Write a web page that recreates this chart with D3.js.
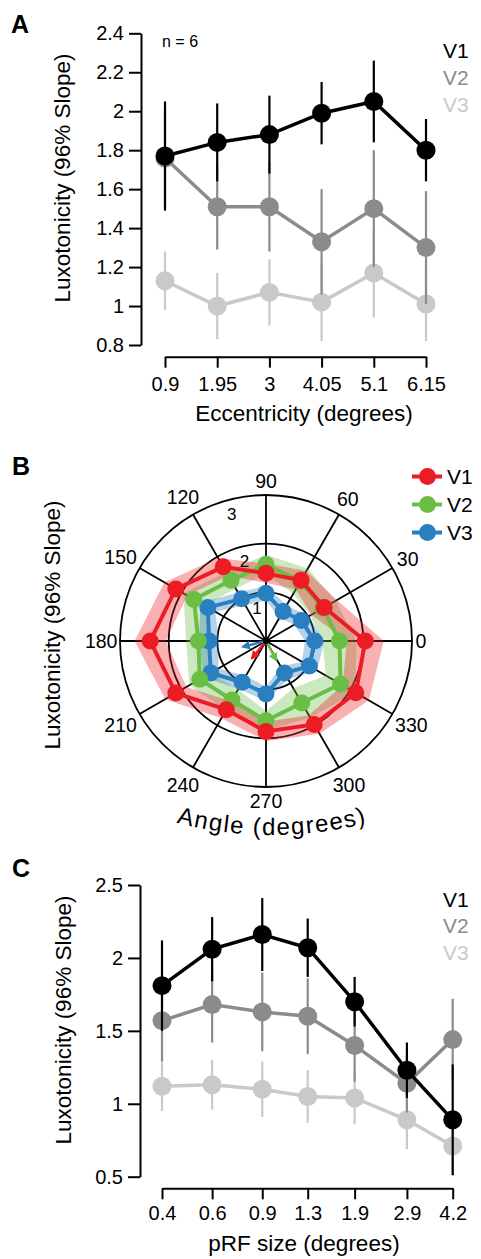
<!DOCTYPE html>
<html>
<head>
<meta charset="utf-8">
<script src="https://cdn.jsdelivr.net/npm/d3@7"></script>
<style>
  body { margin: 0; background: #fff; }
  svg { display: block; }
</style>
</head>
<body>
<svg width="481" height="1259"></svg>
<script>
// ---- panel A: eccentricity ----
var eccTicks = [0.9, 1.95, 3, 4.05, 5.1, 6.15];
var eccYTicks = [0.8, 1, 1.2, 1.4, 1.6, 1.8, 2, 2.2, 2.4];
var eccV1 = [1.77, 1.84, 1.88, 1.99, 2.05, 1.80];
var eccV1Err = [0.28, 0.20, 0.20, 0.16, 0.21, 0.16];
var eccV2 = [1.76, 1.51, 1.51, 1.33, 1.50, 1.30];
var eccV2Err = [0.25, 0.22, 0.23, 0.27, 0.30, 0.29];
var eccV3 = [1.13, 1.00, 1.07, 1.02, 1.17, 1.01];
var eccV3Err = [0.15, 0.17, 0.17, 0.20, 0.23, 0.19];

// ---- panel B: polar angle ----
var angles = [0, 30, 60, 90, 120, 150, 180, 210, 240, 270, 300, 330];
var polRings = [1, 2, 3];
var polV1 = [2.04, 1.38, 1.44, 1.39, 1.76, 2.14, 2.38, 2.14, 1.63, 1.86, 1.98, 2.13];
var polV1Err = [0.38, 0.30, 0.22, 0.20, 0.21, 0.27, 0.32, 0.25, 0.20, 0.20, 0.22, 0.31];
var polV2 = [1.51, 1.35, 1.42, 1.57, 1.44, 1.71, 1.39, 1.57, 1.40, 1.64, 1.47, 1.77];
var polV2Err = [0.35, 0.30, 0.30, 0.20, 0.20, 0.25, 0.25, 0.25, 0.25, 0.20, 0.35, 0.35];
var polV3 = [1.00, 0.84, 0.70, 0.98, 1.00, 1.38, 1.17, 1.31, 0.98, 1.09, 0.76, 1.03];
var polV3Err = [0.20, 0.17, 0.15, 0.15, 0.15, 0.18, 0.20, 0.18, 0.15, 0.15, 0.15, 0.18];
var vecAngle = [231, 298, 194];   // V1, V2, V3 mean vectors
var vecLength = [0.46, 0.45, 0.49];

// ---- panel C: pRF size ----
var prfTicks = [0.4, 0.6, 0.9, 1.3, 1.9, 2.9, 4.2];
var prfYTicks = [0.5, 1, 1.5, 2, 2.5];
var prfV1 = [1.81, 2.06, 2.16, 2.07, 1.70, 1.23, 0.89];
var prfV1Err = [0.31, 0.22, 0.25, 0.20, 0.17, 0.19, 0.38];
var prfV2 = [1.57, 1.68, 1.63, 1.60, 1.40, 1.14, 1.44];
var prfV2Err = [0.28, 0.26, 0.27, 0.26, 0.25, 0.20, 0.28];
var prfV3 = [1.12, 1.13, 1.10, 1.05, 1.04, 0.89, 0.71];
var prfV3Err = [0.17, 0.17, 0.19, 0.18, 0.18, 0.20, 0.20];

var areaNames = ["V1", "V2", "V3"];
var grayColors = ["#000000", "#8b8b8d", "#c8c9ca"];
var polColors = ["#ec1c24", "#6abd45", "#2a7fc1"];

var font = "'Liberation Sans', Arial, Helvetica, sans-serif";
var svg = d3.select("svg").attr("font-family", font);

var styleAxis = function(g, size){
    g.selectAll("path, line").attr("stroke", "#000").attr("stroke-width", 2);
    g.selectAll("text").attr("font-size", size).attr("fill", "#000").attr("font-family", font);
};

var yTitle = function(x, y, label){
    svg.append("text")
        .attr("transform", "translate(" + x + "," + y + ") rotate(-90)")
        .attr("text-anchor", "middle")
        .attr("font-size", 22.5)
        .text(label);
};

var panelLetter = function(x, y, label){
    svg.append("text").attr("x", x).attr("y", y)
        .attr("font-size", 25).attr("font-weight", "bold")
        .text(label);
};

// line chart with error bars (panels A and C)
var drawLinePanel = function(cfg){
    var g = svg.append("g");

    var ax = g.append("g")
        .attr("transform", "translate(" + cfg.yAxisX + ",0)")
        .call(d3.axisLeft(cfg.y).tickValues(cfg.yTicks).tickSize(12).tickSizeOuter(0)
            .tickPadding(5).tickFormat(d3.format("~g")));
    styleAxis(ax, 20);

    var bx = g.append("g")
        .attr("transform", "translate(0," + cfg.xAxisY + ")")
        .call(d3.axisBottom(cfg.x).tickValues(cfg.xTicks).tickSize(11).tickSizeOuter(0)
            .tickPadding(cfg.xPad).tickFormat(d3.format("~g")));
    styleAxis(bx, 20);

    // draw V3 first so V1 ends up on top
    for (var k = cfg.series.length - 1; k >= 0; k--){
        var s = cfg.series[k];
        var sg = g.append("g");

        sg.selectAll("line.err")
            .data(s.values).enter()
            .append("line")
            .attr("class", "err")
            .attr("x1", (d, i) => cfg.x(cfg.xTicks[i]))
            .attr("x2", (d, i) => cfg.x(cfg.xTicks[i]))
            .attr("y1", (d, i) => cfg.y(d - s.err[i]))
            .attr("y2", (d, i) => cfg.y(d + s.err[i]))
            .attr("stroke", s.color)
            .attr("stroke-width", 2.2);

        var lineMaker = d3.line()
            .x((d, i) => cfg.x(cfg.xTicks[i]))
            .y(d => cfg.y(d));
        sg.append("path")
            .attr("fill", "none")
            .attr("stroke", s.color)
            .attr("stroke-width", 3.5)
            .attr("d", lineMaker(s.values));

        sg.selectAll("circle")
            .data(s.values).enter()
            .append("circle")
            .attr("r", 9.5)
            .attr("cx", (d, i) => cfg.x(cfg.xTicks[i]))
            .attr("cy", d => cfg.y(d))
            .attr("fill", s.color);
    }

    // legend
    cfg.series.forEach(function(s, i){
        svg.append("text")
            .attr("x", 443).attr("y", cfg.legendY + i * 26.7)
            .attr("font-size", 21).attr("fill", s.color)
            .text(s.name);
    });

    svg.append("text")
        .attr("x", cfg.xTitleX).attr("y", cfg.xTitleY)
        .attr("text-anchor", "middle").attr("font-size", 22.5)
        .text(cfg.xTitle);
};

// ---------- A ----------
panelLetter(11, 33, "A");
drawLinePanel({
    x: d3.scaleLinear().domain([0.9, 6.15]).range([165, 426]),
    y: d3.scaleLinear().domain([0.8, 2.4]).range([345, 33.3]),
    xTicks: eccTicks, yTicks: eccYTicks,
    yAxisX: 141, xAxisY: 356.7, xPad: 9,
    series: [
        {name: "V1", values: eccV1, err: eccV1Err, color: grayColors[0]},
        {name: "V2", values: eccV2, err: eccV2Err, color: grayColors[1]},
        {name: "V3", values: eccV3, err: eccV3Err, color: grayColors[2]}
    ],
    legendY: 58.3,
    xTitle: "Eccentricity (degrees)", xTitleX: 304, xTitleY: 421
});
yTitle(70, 178, "Luxotonicity (96% Slope)");
svg.append("text").attr("x", 162).attr("y", 47).attr("font-size", 16).text("n = 6");

// ---------- B ----------
panelLetter(12, 475, "B");
yTitle(60, 625, "Luxotonicity (96% Slope)");

var cx = 266, cy = 641;
var r = d3.scaleLinear().domain([0, 3]).range([0, 146]);
var rad = a => a * Math.PI / 180;
var px = (a, v) => cx + r(v) * Math.cos(rad(a));
var py = (a, v) => cy - r(v) * Math.sin(rad(a));

var gPol = svg.append("g");

// grid
gPol.selectAll("line.spoke")
    .data(angles).enter()
    .append("line")
    .attr("x1", cx).attr("y1", cy)
    .attr("x2", d => px(d, 3)).attr("y2", d => py(d, 3))
    .attr("stroke", "#000").attr("stroke-width", 1.8);
gPol.selectAll("circle.ring")
    .data(polRings).enter()
    .append("circle")
    .attr("cx", cx).attr("cy", cy).attr("r", d => r(d))
    .attr("fill", "none").attr("stroke", "#000").attr("stroke-width", 1.8);

// angle labels
var labelR = function(d){
    var w = String(d).length * 11;
    return 150 + 0.45 * w * Math.abs(Math.cos(rad(d))) + 10 * Math.abs(Math.sin(rad(d)));
};
gPol.selectAll("text.ang")
    .data(angles).enter()
    .append("text")
    .attr("x", d => cx + labelR(d) * Math.cos(rad(d)))
    .attr("y", d => cy - labelR(d) * Math.sin(rad(d)))
    .attr("dy", "0.36em")
    .attr("text-anchor", "middle")
    .attr("font-size", 19.5)
    .text(d => d);

// bands
var polSeries = [
    {values: polV1, err: polV1Err, color: polColors[0]},
    {values: polV2, err: polV2Err, color: polColors[1]},
    {values: polV3, err: polV3Err, color: polColors[2]}
];
var radial = d3.lineRadial()
    .angle((d, i) => rad(90 - angles[i]))
    .radius(d => r(d))
    .curve(d3.curveLinearClosed);

[1, 0, 2].forEach(function(k){
    var s = polSeries[k];
    var hi = s.values.map((d, i) => d + s.err[i]);
    var lo = s.values.map((d, i) => Math.max(0, d - s.err[i]));
    gPol.append("path")
        .attr("transform", "translate(" + cx + "," + cy + ")")
        .attr("d", radial(hi) + radial(lo))
        .attr("fill-rule", "evenodd")
        .attr("fill", s.color)
        .attr("fill-opacity", 0.35);
});

// ring labels
gPol.selectAll("text.ring")
    .data(polRings).enter()
    .append("text")
    .attr("x", d => cx + (r(d) - 14) * Math.cos(rad(105)))
    .attr("y", d => cy - (r(d) - 14) * Math.sin(rad(105)))
    .attr("dy", "0.36em")
    .attr("text-anchor", "middle")
    .attr("font-size", 17)
    .text(d => d);

// lines + dots
[2, 1, 0].forEach(function(k){
    var s = polSeries[k];
    gPol.append("path")
        .attr("transform", "translate(" + cx + "," + cy + ")")
        .attr("d", radial(s.values))
        .attr("fill", "none")
        .attr("stroke", s.color)
        .attr("stroke-width", 4);
    gPol.selectAll("circle.d" + k)
        .data(s.values).enter()
        .append("circle")
        .attr("cx", (d, i) => px(angles[i], d))
        .attr("cy", (d, i) => py(angles[i], d))
        .attr("r", 8.5)
        .attr("fill", s.color);
});

// mean vectors
var defs = svg.append("defs");
polColors.forEach(function(c, i){
    defs.append("marker")
        .attr("id", "head" + i)
        .attr("viewBox", "0 0 10 10")
        .attr("refX", 8).attr("refY", 5)
        .attr("markerUnits", "userSpaceOnUse")
        .attr("markerWidth", 9).attr("markerHeight", 9)
        .attr("orient", "auto")
        .append("path").attr("d", "M0,0 L10,5 L0,10 z").attr("fill", c);
});
[2, 1, 0].forEach(function(i){
    gPol.append("line")
        .attr("x1", cx).attr("y1", cy)
        .attr("x2", px(vecAngle[i], vecLength[i]))
        .attr("y2", py(vecAngle[i], vecLength[i]))
        .attr("stroke", polColors[i]).attr("stroke-width", 2.5)
        .attr("marker-end", "url(#head" + i + ")");
});
gPol.append("circle").attr("cx", cx).attr("cy", cy).attr("r", 3).attr("fill", "#000");

// curved axis title: gentle arc under the plot
var arcR = 380, arcCx = 272, arcBottom = 835, arcHalf = 150;
var arcCy = arcBottom - arcR;
var arcDy = Math.sqrt(arcR * arcR - arcHalf * arcHalf);
defs.append("path")
    .attr("id", "angArc")
    .attr("d", "M" + (arcCx - arcHalf) + "," + (arcCy + arcDy) +
        " A" + arcR + "," + arcR + " 0 0 0 " + (arcCx + arcHalf) + "," + (arcCy + arcDy));
svg.append("text")
    .attr("font-size", 24).attr("letter-spacing", 1.5)
    .append("textPath")
    .attr("href", "#angArc")
    .attr("startOffset", "50%")
    .attr("text-anchor", "middle")
    .text("Angle (degrees)");

// legend B
areaNames.forEach(function(name, i){
    var ly = 476.5 + i * 28;
    svg.append("line").attr("x1", 412).attr("x2", 442).attr("y1", ly).attr("y2", ly)
        .attr("stroke", polColors[i]).attr("stroke-width", 4);
    svg.append("circle").attr("cx", 427.5).attr("cy", ly).attr("r", 8.5).attr("fill", polColors[i]);
    svg.append("text").attr("x", 447).attr("y", ly + 7).attr("font-size", 21).text(name);
});

// ---------- C ----------
panelLetter(12, 877, "C");
drawLinePanel({
    x: d3.scaleLog().domain([0.4, 4.2]).range([162, 452.7]),
    y: d3.scaleLinear().domain([0.5, 2.5]).range([1176.7, 885]),
    xTicks: prfTicks, yTicks: prfYTicks,
    yAxisX: 140, xAxisY: 1188.3, xPad: 7,
    series: [
        {name: "V1", values: prfV1, err: prfV1Err, color: grayColors[0]},
        {name: "V2", values: prfV2, err: prfV2Err, color: grayColors[1]},
        {name: "V3", values: prfV3, err: prfV3Err, color: grayColors[2]}
    ],
    legendY: 906.7,
    xTitle: "pRF size (degrees)", xTitleX: 304, xTitleY: 1251
});
yTitle(71, 1020, "Luxotonicity (96% Slope)");
</script>
</body>
</html>
